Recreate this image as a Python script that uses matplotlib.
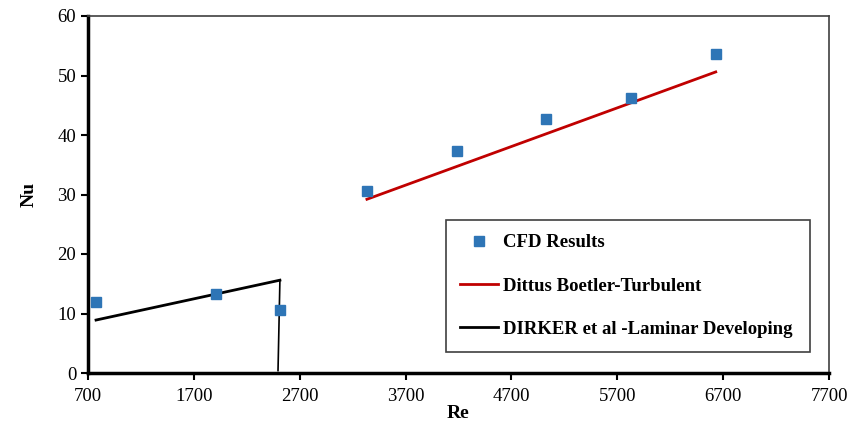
import matplotlib
matplotlib.use('Agg')
import matplotlib.pyplot as plt

plt.rcParams['font.family'] = ['Liberation Serif', 'DejaVu Serif']

# CFD results
re_cfd = [776, 1909, 2513, 3335, 4185, 5025, 5827, 6630]
nu_cfd = [11.9, 13.3, 10.6, 30.6, 37.3, 42.7, 46.2, 53.6]

# Dittus Boelter correlation (turbulent)
re_db = [3335, 6630]
nu_db = [29.2, 50.6]

# Dirker et al. (laminar developing)
re_dk = [776, 2513, 2495]
nu_dk = [8.9, 15.6, 0.4]

fig = plt.figure(figsize=(8.47, 4.22), dpi=100)
ax = fig.add_axes([88 / 847, 49 / 422, 741 / 847, 357 / 422])

ax.plot(re_cfd, nu_cfd, 's', color='#2e75b6', ms=7, label='CFD Results', zorder=3)
ax.plot(re_db, nu_db, '-', color='#c00000', lw=2, label='Dittus Boetler-Turbulent')
ax.plot(re_dk[:2], nu_dk[:2], '-', color='black', lw=2,
        label='DIRKER et al -Laminar Developing')
ax.plot(re_dk[1:], nu_dk[1:], '-', color='black', lw=1.2)

ax.set_xlim(700, 7700)
ax.set_ylim(0, 60)
ax.set_xticks(range(700, 7701, 1000))
ax.set_yticks(range(0, 61, 10))
ax.tick_params(direction='out', length=5, width=1.5, labelsize=13.5)
ax.tick_params(axis='x', pad=6)

for s in ['left', 'bottom']:
    ax.spines[s].set_linewidth(2.5)
for s in ['top', 'right']:
    ax.spines[s].set_linewidth(1.2)
    ax.spines[s].set_color('#404040')

ax.set_xlabel('Re', fontsize=14, fontweight='bold', labelpad=0)
ax.set_ylabel('Nu', fontsize=14, fontweight='bold', labelpad=14)

leg = ax.legend(loc='lower left', bbox_to_anchor=(358 / 741, 21 / 357, 364 / 741, 132 / 357),
                mode='expand', borderaxespad=0, fancybox=False, edgecolor='#404040',
                framealpha=1, prop={'weight': 'bold', 'size': 13.5}, labelspacing=1.4,
                handlelength=2.0, handletextpad=0.3, borderpad=0.75)
leg.get_frame().set_linewidth(1.2)

fig.savefig('out.png', dpi=100)
